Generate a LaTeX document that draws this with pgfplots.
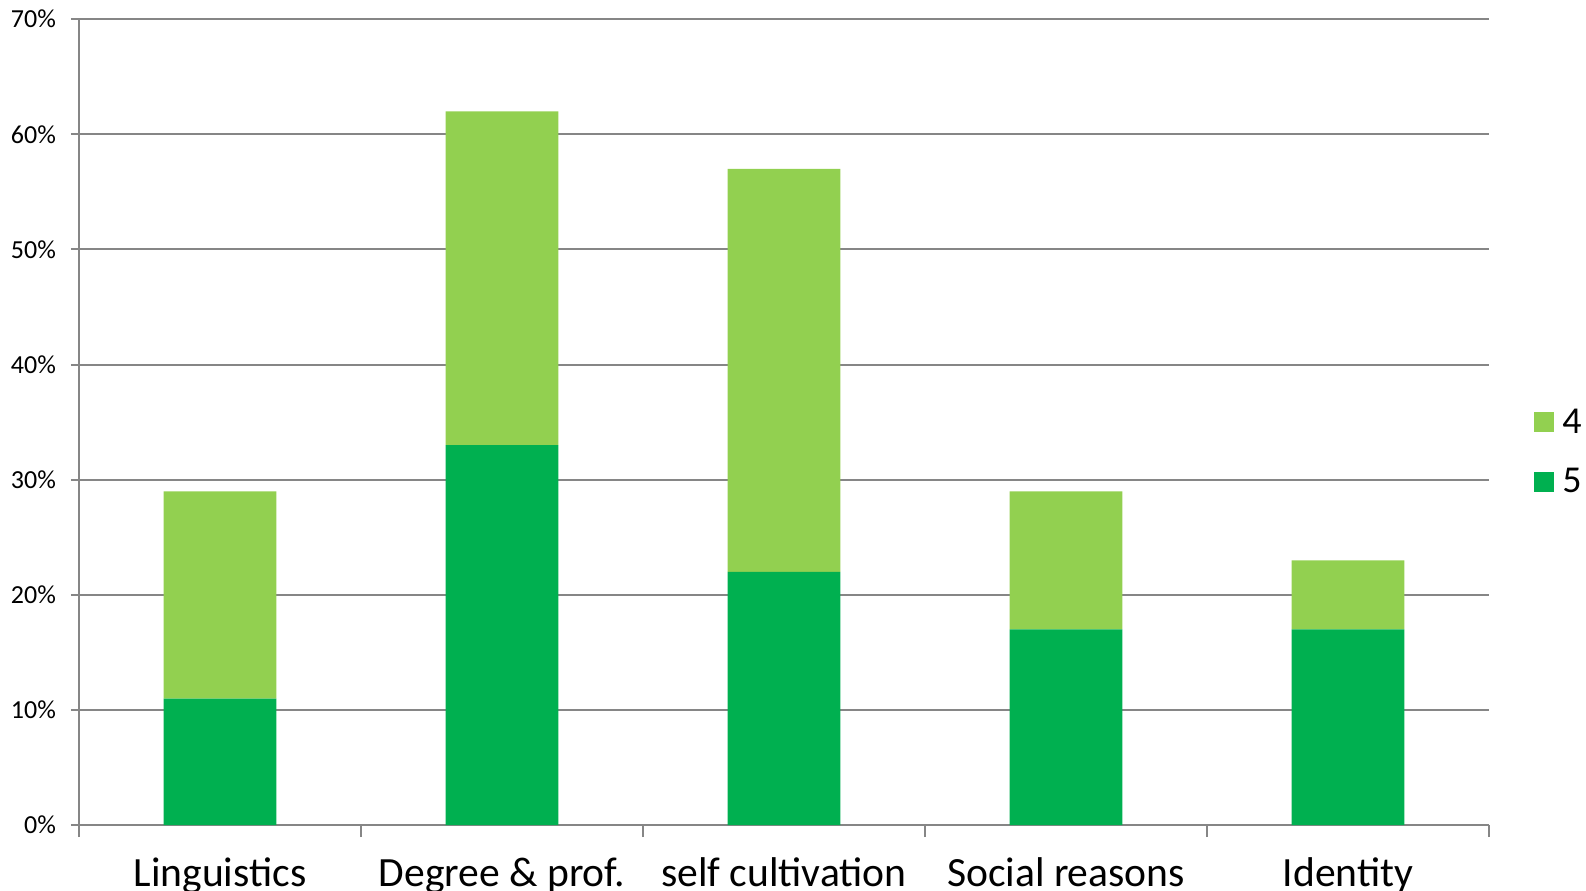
\documentclass[border=0pt]{standalone}
\usepackage{pgfplots}
\pgfplotsset{compat=1.18}
\usepackage{fontspec}
\setmainfont{Carlito}
\definecolor{lg}{HTML}{92D050}
\definecolor{dg}{HTML}{00B050}
\definecolor{ax}{HTML}{868686}
\begin{document}
\begin{tikzpicture}
\useasboundingbox (-39.5pt,-32.8pt) rectangle (753.5pt,412.6pt);
\begin{axis}[
 at={(0,0)}, anchor=south west,
 scale only axis, width=705pt, height=403pt,
 ybar stacked, bar width=0.4,
 xmin=-0.5, xmax=4.5, ymin=0, ymax=70,
 axis x line=bottom, axis y line=left,
 axis line style={-, draw=ax, line width=1pt},
 xtick={-0.5,0.5,1.5,2.5,3.5,4.5},
 x tick label as interval,
 xticklabels={Linguistics, Degree \& prof., self cultivation, Social reasons, Identity},
 major tick length=6pt,
 major x tick style={draw=ax, line width=1pt},
 ytick={0,10,20,30,40,50,60,70},
 yticklabel={\pgfmathprintnumber{\tick}\%},
 /pgf/number format/assume math mode=true,
 tick align=outside,
 major y tick style={draw=ax, line width=1pt, xshift=2pt},
 ymajorgrids=true, grid style={draw=ax, line width=1pt},
 yticklabel style={font=\fontsize{13}{13}\selectfont, xshift=-2pt},
 xticklabel style={font=\fontsize{20.8}{20.8}\selectfont, anchor=base, yshift=-24.8pt},
 legend style={at={(1,0.463)}, anchor=west, xshift=22.5pt, draw=none, fill=none,
   font=\fontsize{19}{19}\selectfont, row sep=12pt, inner sep=0pt, cells={anchor=west}},
 reverse legend,
 legend image code/.code={\fill[#1] (0pt,-5pt) rectangle (10pt,5pt);},
]
\addplot[fill=dg, draw=none] coordinates {(0,11) (1,33) (2,22) (3,17) (4,17)};
\addlegendentry{\hspace{2pt}5}
\addplot[fill=lg, draw=none] coordinates {(0,18) (1,29) (2,35) (3,12) (4,6)};
\addlegendentry{\hspace{2pt}4}
\end{axis}
\end{tikzpicture}
\end{document}
